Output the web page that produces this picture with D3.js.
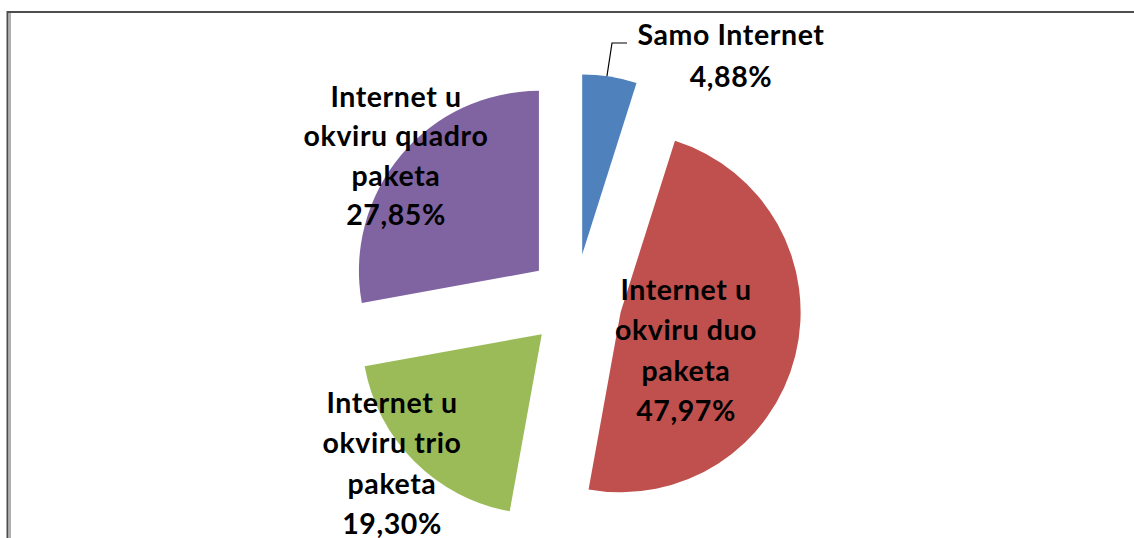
<!DOCTYPE html>
<html>
<head>
<meta charset="utf-8">
<script src="https://cdn.jsdelivr.net/npm/d3@7"></script>
<style>
  body { margin: 0; background: #fff; }
  svg text { font-family: "Lato", "Open Sans", sans-serif; font-weight: bold; fill: #000; letter-spacing: 0.6px; }
</style>
</head>
<body>
<div id="chart"></div>
<script>
// data
const labels = [
  ["Samo Internet", "4,88%"],
  ["Internet u", "okviru duo", "paketa", "47,97%"],
  ["Internet u", "okviru trio", "paketa", "19,30%"],
  ["Internet u", "okviru quadro", "paketa", "27,85%"]
];
const values = [4.88, 47.97, 19.30, 27.85];
const colors = ["#4f81bd", "#c0504d", "#9bbb59", "#8064a2"];

// svg params
const width = 1134, height = 538;
const cx = 575, cy = 301;
const radius = 180;
const explode = 47;

const svg = d3.select("#chart")
    .append("svg")
    .attr("width", width)
    .attr("height", height);

// frame (chart border is cut off at right/bottom)
svg.append("line")
    .attr("x1", 7).attr("x2", width)
    .attr("y1", 12).attr("y2", 12)
    .attr("stroke", "#4d4d4d").attr("stroke-width", 2);
svg.append("line")
    .attr("x1", 7.5).attr("x2", 7.5)
    .attr("y1", 11).attr("y2", height)
    .attr("stroke", "#4d4d4d").attr("stroke-width", 2);
svg.append("line")
    .attr("x1", 10).attr("x2", 10)
    .attr("y1", 13).attr("y2", height)
    .attr("stroke", "#b0b0b0").attr("stroke-width", 2);

const pie = d3.pie().sort(null).value((d) => d);
const arcs = pie(values);
const arc = d3.arc().innerRadius(0).outerRadius(radius);

function offset(d) {
  const a = (d.startAngle + d.endAngle) / 2;
  return [explode * Math.sin(a), -explode * Math.cos(a)];
}

const g = svg.append("g")
    .attr("transform", "translate(" + cx + "," + cy + ")");

g.selectAll(".slice")
    .data(arcs)
    .enter()
    .append("path")
    .attr("class", "slice")
    .attr("transform", (d) => "translate(" + offset(d) + ")")
    .attr("d", arc)
    .attr("fill", (d, i) => colors[i]);

// label positions (center x, first line center y)
const labelPos = [
  [731, 35],
  [686, 290],
  [392, 403],
  [396, 97]
];
const lineH = [42, 40.5, 40.5, 39.5];

labels.forEach((lines, i) => {
  const t = svg.append("text")
      .attr("text-anchor", "middle")
      .attr("font-size", 28.5);
  lines.forEach((s, j) => {
    t.append("tspan")
        .attr("x", labelPos[i][0])
        .attr("y", labelPos[i][1] + j * lineH[i])
        .attr("dy", "0.35em")
        .text(s);
  });
});

// leader line for the small slice
const blue = arcs[0];
const bo = offset(blue);
const edgeA = blue.startAngle + 0.45 * (blue.endAngle - blue.startAngle);
const p0 = [cx + bo[0] + radius * Math.sin(edgeA), cy + bo[1] - radius * Math.cos(edgeA)];
svg.append("polyline")
    .attr("points", [p0, [612, 43], [627, 43]].map((p) => p.join(",")).join(" "))
    .attr("fill", "none")
    .attr("stroke", "#000")
    .attr("stroke-width", 1.2);
</script>
</body>
</html>
